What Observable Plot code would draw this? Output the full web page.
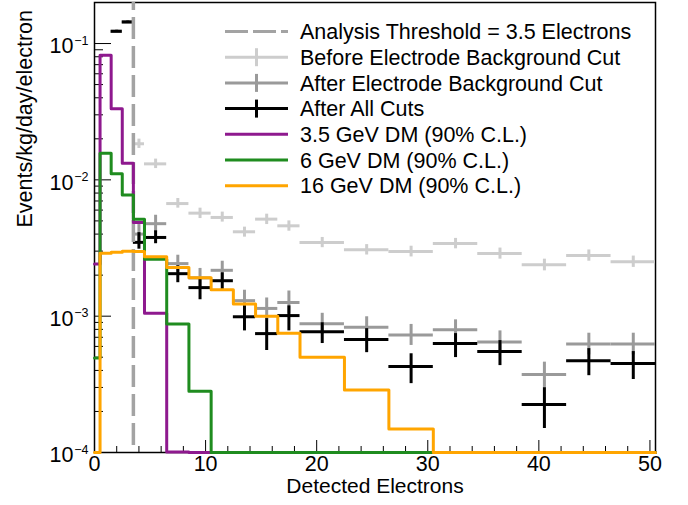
<!DOCTYPE html>
<html><head><meta charset="utf-8">
<script src="https://cdn.jsdelivr.net/npm/d3@7"></script>
<script src="https://cdn.jsdelivr.net/npm/@observablehq/plot@0.6"></script>
<style>body{margin:0;background:#fff}#chart{width:688px;height:505px}</style>
</head><body><div id="chart"></div>
<script>
// ---- DM signal histograms (bin edges and contents) ----
const dmEdges = [0, 0.5, 1.5, 2.5, 3.5, 4.5, 6.5, 8.5, 10.5, 12.5, 14.5, 16.5, 18.5, 22.5, 26.5, 30.5, 34.5, 38.5, 42.5, 46.5, 50.5];
const dm35 = [0.00241, 0.082, 0.0333, 0.01324, 0.00486, 0.00105, 0.000101, 0.0001, 0, 0, 0, 0, 0, 0, 0, 0, 0, 0, 0, 0];
const dm6  = [0.000494, 0.0157, 0.0111, 0.00773, 0.00515, 0.00262, 0.000877, 0.000281, 0, 0, 0, 0, 0, 0, 0, 0, 0, 0, 0, 0];
const dm16 = [0, 0.0029, 0.00295, 0.0030, 0.00298, 0.00273, 0.00228, 0.00191, 0.00156, 0.00123, 0.000998, 0.000748, 0.000499, 0.000288, 0.000149, 0, 0, 0, 0, 0];

// ---- measured spectra (bin edges, values, error bar ends) ----
const dataEdges = [1.5, 2.5, 3.5, 4.5, 6.5, 8.5, 10.5, 12.5, 14.5, 16.5, 18.5, 22.5, 26.5, 30.5, 34.5, 38.5, 42.5, 46.5, 50.5];
const beforeElec   = [0.123, 0.144, 0.0184, 0.0131, 0.0067, 0.0057, 0.0053, 0.00416, 0.00515, 0.0046, 0.00347, 0.00307, 0.00298, 0.00341, 0.00288, 0.00238, 0.00279, 0.00251];
const beforeElecLo = [0.121, 0.142, 0.0170, 0.0121, 0.0062, 0.0052, 0.0049, 0.0038, 0.0047, 0.0042, 0.00318, 0.00281, 0.00272, 0.00312, 0.00262, 0.00215, 0.00253, 0.00228];
const beforeElecHi = [0.125, 0.146, 0.0199, 0.0142, 0.0073, 0.0062, 0.0058, 0.0045, 0.0056, 0.0050, 0.00378, 0.00335, 0.00326, 0.00372, 0.00316, 0.00262, 0.00306, 0.00276];
const afterElec   = [0.123, 0.144, 0.0040, 0.00477, 0.00243, 0.00191, 0.00217, 0.00130, 0.00114, 0.00126, 0.000881, 0.000828, 0.000728, 0.000796, 0.000647, 0.000373, 0.000626, 0.000626];
const afterElecLo = [0.121, 0.142, 0.0034, 0.0041, 0.0021, 0.00162, 0.00185, 0.00108, 0.00095, 0.00104, 0.00074, 0.00069, 0.00061, 0.00067, 0.00054, 0.00030, 0.00052, 0.00052];
const afterElecHi = [0.125, 0.146, 0.0047, 0.0055, 0.0028, 0.00224, 0.00253, 0.00155, 0.00136, 0.00153, 0.00105, 0.00099, 0.00087, 0.00094, 0.00078, 0.00046, 0.00075, 0.00075];
const allCuts   = [0.123, 0.144, 0.00348, 0.00378, 0.00205, 0.00162, 0.00182, 0.00099, 0.000745, 0.00101, 0.00077, 0.000673, 0.000427, 0.00063, 0.00055, 0.000225, 0.000472, 0.000449];
const allCutsLo = [0.121, 0.142, 0.0031, 0.0034, 0.00176, 0.00132, 0.00154, 0.00078, 0.00056, 0.00078, 0.00063, 0.00054, 0.00032, 0.000497, 0.000434, 0.00015, 0.000366, 0.000343];
const allCutsHi = [0.125, 0.146, 0.0041, 0.00423, 0.00234, 0.00188, 0.00208, 0.00119, 0.00096, 0.00119, 0.000895, 0.00081, 0.00053, 0.000745, 0.000662, 0.000299, 0.000578, 0.00055];

const threshold = 3.5;

// ---- axes ----
const xTickValues = [0, 10, 20, 30, 40, 50];
const xTickLabels = ["0", "10", "20", "30", "40", "50"];
const xMinorTicks = [2, 4, 6, 8, 12, 14, 16, 18, 22, 24, 26, 28, 32, 34, 36, 38, 42, 44, 46, 48];
const yTickValues = [1e-4, 1e-3, 1e-2, 1e-1];
const yTickExponents = ["\u22124", "\u22123", "\u22122", "\u22121"];
const yMinorTicks = [2e-4,3e-4,4e-4,5e-4,6e-4,7e-4,8e-4,9e-4,2e-3,3e-3,4e-3,5e-3,6e-3,7e-3,8e-3,9e-3,2e-2,3e-2,4e-2,5e-2,6e-2,7e-2,8e-2,9e-2];
const xTitle = "Detected Electrons";
const yTitle = "Events/kg/day/electron";

// ---- legend ----
const legendLabels = ["Analysis Threshold = 3.5 Electrons", "Before Electrode Background Cut", "After Electrode Background Cut", "After All Cuts", "3.5 GeV DM (90% C.L.)", "6 GeV DM (90% C.L.)", "16 GeV DM (90% C.L.)"];
const colors = {thr: "#a3a3a3", before: "#cdcdcd", after: "#9a9a9a", all: "#000000", dm35: "#8e198e", dm6: "#1f8c1f", dm16: "#ffa500"};
const legendColors = [colors.thr, colors.before, colors.after, colors.all, colors.dm35, colors.dm6, colors.dm16];
const legendKinds = ["dash", "cross", "cross", "cross", "line", "line", "line"];

const yMin = 1e-4;
function stepPoints(edges, vals) {
  const pts = vals.map((v, i) => ({x: edges[i], y: Math.max(v, yMin)}));
  pts.push({x: edges[edges.length - 1], y: Math.max(vals[vals.length - 1], yMin)});
  return pts;
}
function points(vals, lo, hi) {
  return vals.map((v, i) => ({x1: dataEdges[i], x2: dataEdges[i + 1], xc: (dataEdges[i] + dataEdges[i + 1]) / 2, y: v, lo: lo[i], hi: hi[i]}));
}
const ptsBefore = points(beforeElec, beforeElecLo, beforeElecHi);
const ptsAfter = points(afterElec, afterElecLo, afterElecHi);
const ptsAll = points(allCuts, allCutsLo, allCutsHi);

const W = 688, H = 505, mT = 2, mR = 33, mB = 53, mL = 94;
const plotW = W - mL - mR, plotH = H - mT - mB;
const font = "'Liberation Sans', Arial, Helvetica, sans-serif";

function errMarks(pts, color) {
  return [
    Plot.ruleY(pts, {y: "y", x1: "x1", x2: "x2", stroke: color, strokeWidth: 3}),
    Plot.ruleX(pts, {x: "xc", y1: "lo", y2: "hi", stroke: color, strokeWidth: 3})
  ];
}

const chart = Plot.plot({
  width: W, height: H,
  marginTop: mT, marginRight: mR, marginBottom: mB, marginLeft: mL,
  style: {fontFamily: font, background: "white"},
  x: {domain: [0, 50.5], axis: null},
  y: {type: "log", domain: [1e-4, 0.2], axis: null},
  marks: [
    Plot.frame({stroke: "black", strokeWidth: 1.5}),
    // ticks (inward)
    Plot.tickX(xTickValues, {x: d => d, insetTop: plotH - 12, stroke: "black", strokeWidth: 1}),
    Plot.tickX(xMinorTicks, {x: d => d, insetTop: plotH - 6, stroke: "black", strokeWidth: 1}),
    Plot.tickY(yTickValues, {y: d => d, insetRight: plotW - 17, stroke: "black", strokeWidth: 1}),
    Plot.tickY(yMinorTicks, {y: d => d, insetRight: plotW - 9, stroke: "black", strokeWidth: 1}),
    // tick labels
    Plot.text(xTickValues, {x: d => d, text: (d, i) => xTickLabels[i], frameAnchor: "bottom", dy: 18, fontSize: 21.5, fill: "black"}),
    Plot.text(yTickValues, {y: d => d, text: () => "10", frameAnchor: "left", textAnchor: "end", dx: -21, dy: 3, fontSize: 21.5, fill: "black"}),
    Plot.text(yTickValues, {y: d => d, text: (d, i) => yTickExponents[i], frameAnchor: "left", textAnchor: "end", dx: -6, dy: -3, fontSize: 12.5, fill: "black"}),
    // axis titles
    Plot.text([xTitle], {text: d => d, frameAnchor: "bottom", dy: 40, fontSize: 21, fill: "black"}),
    Plot.text([yTitle], {text: d => d, frameAnchor: "left", dx: -69, rotate: -90, fontSize: 21.5, fill: "black"}),
    // data
    ...errMarks(ptsBefore, colors.before),
    ...errMarks(ptsAfter, colors.after),
    ...errMarks(ptsAll, colors.all),
    Plot.ruleX([threshold], {x: d => d, stroke: colors.thr, strokeWidth: 3.5, strokeDasharray: "22,7", strokeDashoffset: 14}),
    Plot.line(stepPoints(dmEdges, dm35), {x: "x", y: "y", curve: "step-after", stroke: colors.dm35, strokeWidth: 3}),
    Plot.line(stepPoints(dmEdges, dm6), {x: "x", y: "y", curve: "step-after", stroke: colors.dm6, strokeWidth: 3}),
    Plot.line(stepPoints(dmEdges, dm16), {x: "x", y: "y", curve: "step-after", stroke: colors.dm16, strokeWidth: 3})
  ]
});
document.getElementById("chart").appendChild(chart);

// legend inside the frame
const svg = d3.select(chart);
const lg = svg.append("g").attr("font-family", font).attr("font-size", 21.5).attr("text-anchor", "start");
legendLabels.forEach((label, i) => {
  const y = 31.5 + i * 25.7;
  const c = legendColors[i], kind = legendKinds[i];
  const ln = lg.append("line").attr("x1", 225).attr("x2", 288).attr("y1", y).attr("y2", y).attr("stroke", c).attr("stroke-width", 3);
  if (kind === "dash") ln.attr("stroke-dasharray", "23,5");
  if (kind === "cross") lg.append("line").attr("x1", 256.5).attr("x2", 256.5).attr("y1", y - 9).attr("y2", y + 9).attr("stroke", c).attr("stroke-width", 3);
  lg.append("text").attr("x", 300).attr("y", y).attr("dy", "0.36em").attr("fill", "black").text(label);
});
</script></body></html>
